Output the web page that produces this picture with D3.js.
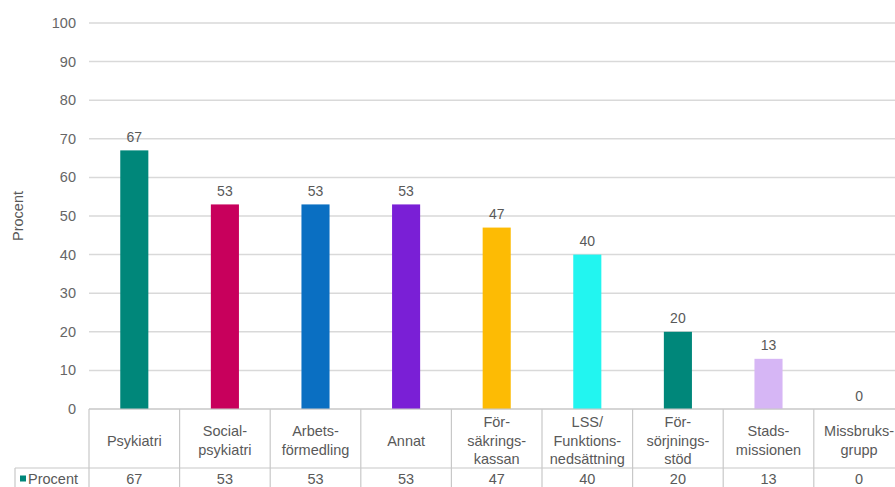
<!DOCTYPE html>
<html lang="sv">
<head>
<meta charset="utf-8">
<script src="https://cdn.jsdelivr.net/npm/d3@7/dist/d3.min.js"></script>
<style>
  html, body { margin: 0; padding: 0; background: #fff; }
  svg { display: block; font-family: "Liberation Sans", Arial, sans-serif; }
</style>
</head>
<body>
<svg id="chart" width="895" height="487"></svg>
<script>
// Category labels as they are broken over lines in the data table
const categoryLines = [
  ["Psykiatri"],
  ["Social-", "psykiatri"],
  ["Arbets-", "förmedling"],
  ["Annat"],
  ["För-", "säkrings-", "kassan"],
  ["LSS/", "Funktions-", "nedsättning"],
  ["För-", "sörjnings-", "stöd"],
  ["Stads-", "missionen"],
  ["Missbruks-", "grupp"]
];
const categories = categoryLines.map(l => l.join(""));
const values = [67, 53, 53, 53, 47, 40, 20, 13, 0];
const barColors = ["#00877a", "#c8005c", "#0a6fc2", "#7a1fd6", "#fdbb04", "#22f5f0", "#00877a", "#d6b6f5", "#00877a"];
const yTicks = [0, 10, 20, 30, 40, 50, 60, 70, 80, 90, 100];
const seriesName = "Procent";
const yTitle = "Procent";

const svg = d3.select("#chart");
const plotLeft = 89, bandW = 90.6;
const plotTop = 23, plotBottom = 409;
const headerBottom = 468, tableBottom = 487;

const x = d3.scaleBand()
  .domain(categories)
  .range([plotLeft, plotLeft + bandW * categories.length])
  .paddingInner(0).paddingOuter(0);
const y = d3.scaleLinear().domain([0, 100]).range([plotBottom, plotTop]);

// Horizontal gridlines
svg.append("g").selectAll("line").data(yTicks).join("line")
  .attr("x1", plotLeft).attr("x2", x.range()[1])
  .attr("y1", d => y(d)).attr("y2", d => y(d))
  .attr("stroke", "#d9d9d9").attr("stroke-width", 1.5);

// Y axis tick labels
svg.append("g").selectAll("text").data(yTicks).join("text")
  .attr("x", 76).attr("y", d => y(d))
  .attr("text-anchor", "end").attr("dominant-baseline", "central")
  .attr("font-size", 14.5).attr("fill", "#666")
  .text(d => d);

// Y axis title
svg.append("text")
  .attr("transform", `translate(18,${(plotTop + plotBottom) / 2}) rotate(-90)`)
  .attr("text-anchor", "middle").attr("dominant-baseline", "central")
  .attr("font-size", 14.5).attr("fill", "#595959")
  .text(yTitle);

// Bars
const barW = x.bandwidth() * 0.31;
svg.append("g").selectAll("rect").data(categories).join("rect")
  .attr("x", d => x(d) + (x.bandwidth() - barW) / 2)
  .attr("y", (d, i) => y(values[i]))
  .attr("width", barW)
  .attr("height", (d, i) => y(0) - y(values[i]))
  .attr("fill", (d, i) => barColors[i]);

// Value labels above the bars
svg.append("g").selectAll("text").data(categories).join("text")
  .attr("x", d => x(d) + x.bandwidth() / 2)
  .attr("y", (d, i) => y(values[i]) - 13.5)
  .attr("text-anchor", "middle").attr("dominant-baseline", "central")
  .attr("font-size", 14).attr("fill", "#595959")
  .text((d, i) => values[i]);

// Data table grid
const grid = svg.append("g").attr("stroke", "#c8c8c8").attr("stroke-width", 1.2);
grid.append("line").attr("x1", plotLeft).attr("x2", x.range()[1]).attr("y1", y(0)).attr("y2", y(0));
grid.append("line").attr("x1", 15).attr("x2", x.range()[1]).attr("y1", headerBottom).attr("y2", headerBottom);
grid.selectAll(".v").data(d3.range(categories.length + 1)).join("line")
  .attr("x1", i => plotLeft + i * bandW).attr("x2", i => plotLeft + i * bandW)
  .attr("y1", y(0)).attr("y2", tableBottom);
grid.append("line").attr("x1", 15).attr("x2", 15).attr("y1", headerBottom).attr("y2", tableBottom);

// Category labels in the table header
const lineH = 18.5, headerMid = 440.5;
const hdr = svg.append("g").selectAll("text").data(categories).join("text")
  .attr("text-anchor", "middle")
  .attr("font-size", 14.5).attr("fill", "#595959");
hdr.each(function (d, i) {
  const lines = categoryLines[i];
  const t = d3.select(this);
  lines.forEach((ln, k) => {
    t.append("tspan")
      .attr("x", x(d) + x.bandwidth() / 2)
      .attr("y", headerMid + (k - (lines.length - 1) / 2) * lineH)
      .attr("dominant-baseline", "central")
      .text(ln);
  });
});

// Data row values
svg.append("g").selectAll("text").data(categories).join("text")
  .attr("x", d => x(d) + x.bandwidth() / 2)
  .attr("y", 478.5)
  .attr("text-anchor", "middle").attr("dominant-baseline", "central")
  .attr("font-size", 14.5).attr("fill", "#595959")
  .text((d, i) => values[i]);

// Series key in the row header
svg.append("rect").attr("x", 20).attr("y", 475.5).attr("width", 6).attr("height", 6).attr("fill", barColors[0]);
svg.append("text")
  .attr("x", 28).attr("y", 478.5)
  .attr("dominant-baseline", "central")
  .attr("font-size", 14.5).attr("fill", "#595959")
  .text(seriesName);
</script>
</body>
</html>
